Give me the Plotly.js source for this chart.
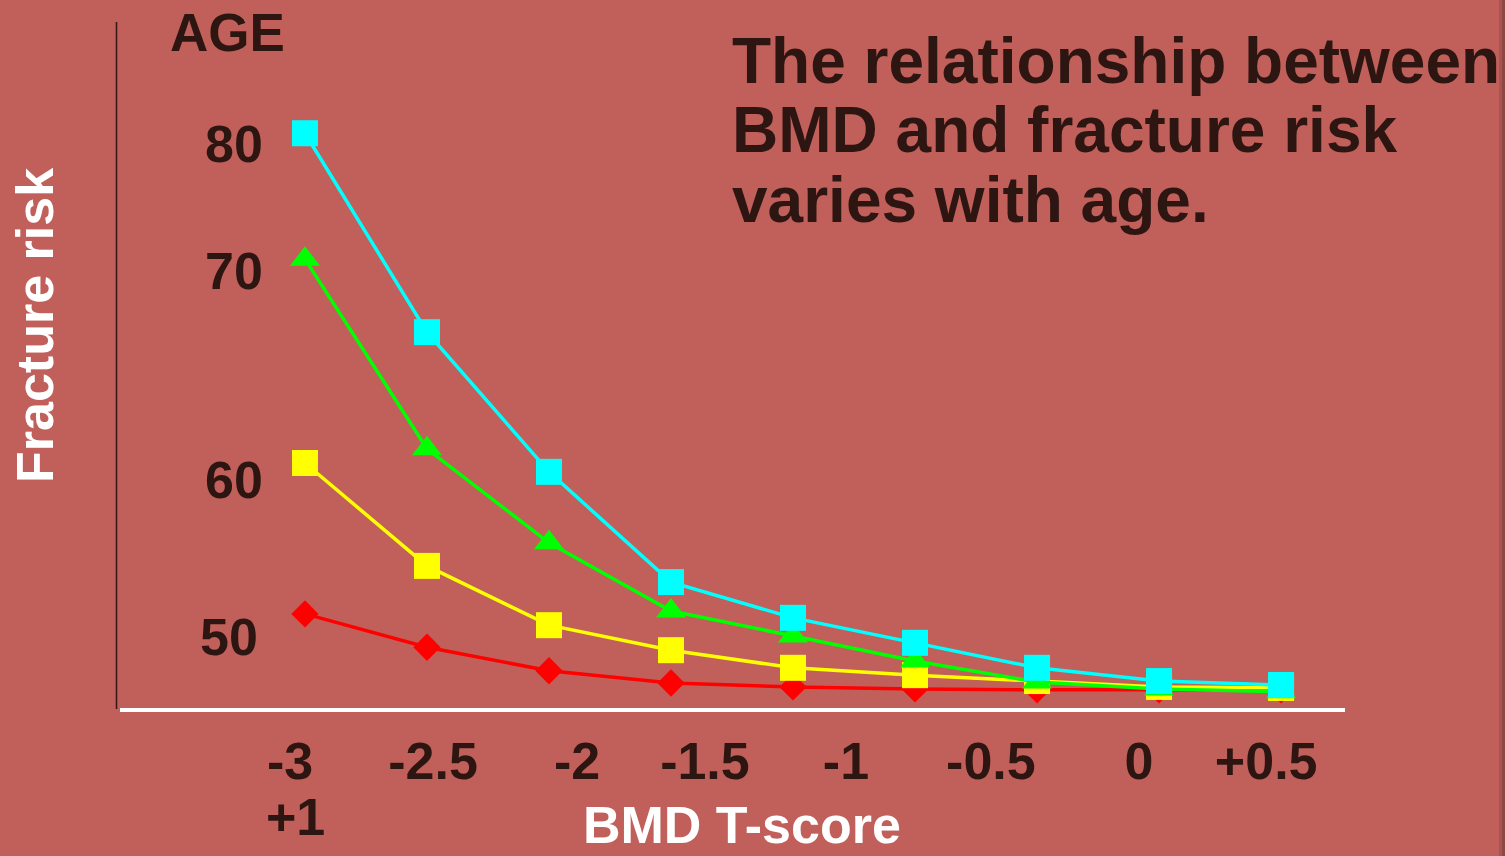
<!DOCTYPE html>
<html>
<head>
<meta charset="utf-8">
<script src="https://cdn.plot.ly/plotly-3.0.1.min.js"></script>
<style>
  html, body { margin: 0; padding: 0; background: #C1605A; }
  #chart { width: 1505px; height: 856px; }
</style>
</head>
<body>
<div id="chart"></div>
<script>
// ---- data ----
const tScore = [-3, -2.5, -2, -1.5, -1, -0.5, 0, 0.5, 1];
const risk50 = [1.92, 1.24, 0.76, 0.51, 0.43, 0.39, 0.37, 0.37, 0.37];
const risk60 = [5.00, 2.90, 1.69, 1.18, 0.82, 0.67, 0.55, 0.43, 0.41];
const risk70 = [9.16, 5.29, 3.37, 1.98, 1.47, 0.96, 0.53, 0.39, 0.33];
const risk80 = [11.73, 7.67, 4.82, 2.57, 1.84, 1.33, 0.82, 0.55, 0.47];
const tickLabels = ['-3', '-2.5', '-2', '-1.5', '-1', '-0.5', '0', '+0.5'];
const tickPositions = [-3.061, -2.475, -1.885, -1.361, -0.783, -0.189, 0.418, 0.939];
const extraTickLabel = '+1';
const ageLabels = ['80', '70', '60', '50'];
const ageHeader = 'AGE';
const titleLines = ['The relationship between', 'BMD and fracture risk', 'varies with age.'];
const xTitle = 'BMD T-score';
const yTitle = 'Fracture risk';

// ---- layout helpers ----
const W = 1505, H = 856;
const M = { l: 120, r: 160, t: 22, b: 148 };
const PW = W - M.l - M.r, PH = H - M.t - M.b;
const px = x => (x - M.l) / PW;
const py = y => (H - M.b - y) / PH;

const DARK = '#2D1512';
const FONT = 'Liberation Sans, Arial, sans-serif';

function series(y, color, symbol, size) {
  return {
    x: tScore, y: y, type: 'scatter', mode: 'lines+markers',
    line: { color: color, width: 3.5 },
    marker: { color: color, symbol: symbol, size: size, line: { width: 0 } },
    hoverinfo: 'x+y'
  };
}

const data = [
  series(risk50, '#FF0000', 'diamond', 21),
  series(risk60, '#FFFF00', 'square', 26),
  series(risk70, '#00FF00', 'triangle-up', 26),
  series(risk80, '#00FFFF', 'square', 26)
];

function txt(text, x, y, size, color, opts) {
  return Object.assign({
    text: text, xref: 'paper', yref: 'paper', x: px(x), y: py(y),
    xanchor: 'center', yanchor: 'middle', showarrow: false,
    font: { family: FONT, size: size, color: color, weight: 'bold' }
  }, opts || {});
}

const agePos = [[234, 144], [234, 271], [234, 480], [229, 637]];
const annotations = [
  txt(ageHeader, 227, 32, 53, DARK),
  ...ageLabels.map((t, i) => txt(t, agePos[i][0], agePos[i][1], 52, DARK)),
  txt(extraTickLabel, 295, 817, 52, DARK),
  txt(xTitle, 742, 825, 52, '#FFFFFF'),
  txt(yTitle, 35, 326, 52, '#FFFFFF', { textangle: -90 }),
  ...titleLines.map((t, i) => txt(t, 730, [61, 130, 200][i], 64, DARK, { xanchor: 'left' }))
];

const layout = {
  width: W, height: H,
  margin: M,
  paper_bgcolor: '#C1605A',
  plot_bgcolor: '#C1605A',
  showlegend: false,
  xaxis: {
    range: [-3.758, 1.262],
    tickvals: tickPositions, ticktext: tickLabels,
    showgrid: false, zeroline: false,
    showline: true, linecolor: '#FFFFFF', linewidth: 4,
    ticks: '', ticklabelstandoff: 5,
    tickfont: { family: FONT, size: 52, color: DARK, weight: 'bold' }
  },
  yaxis: {
    range: [0, 14],
    showgrid: false, zeroline: false, showline: false, showticklabels: false, ticks: ''
  },
  annotations: annotations,
  shapes: [
    { type: 'line', xref: 'paper', yref: 'paper', x0: px(116.5), x1: px(116.5), y0: py(22), y1: py(709),
      line: { color: '#3A1A17', width: 1.6 } },
    { type: 'rect', xref: 'paper', yref: 'paper', x0: px(1499), x1: px(1502), y0: 0 - M.b / PH, y1: 1 + M.t / PH,
      fillcolor: '#A85550', line: { width: 0 } },
    { type: 'rect', xref: 'paper', yref: 'paper', x0: px(1502), x1: px(1505), y0: 0 - M.b / PH, y1: 1 + M.t / PH,
      fillcolor: '#8E4742', line: { width: 0 } }
  ]
};

Plotly.newPlot('chart', data, layout, { displayModeBar: false, staticPlot: true });
</script>
</body>
</html>
